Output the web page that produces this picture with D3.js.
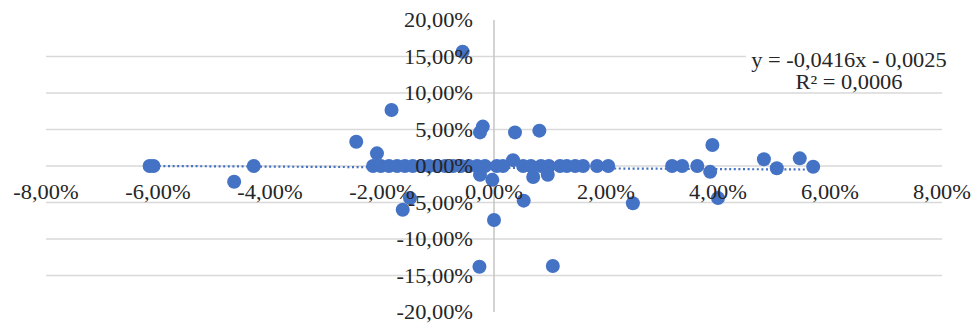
<!DOCTYPE html>
<html>
<head>
<meta charset="utf-8">
<script src="https://cdn.jsdelivr.net/npm/d3@7/dist/d3.min.js"></script>
<style>
  html, body { margin: 0; padding: 0; background: #fff; }
  svg { display: block; }
  text { font-family: "Liberation Serif", "Times New Roman", serif; fill: #262626; }
</style>
</head>
<body>
<svg id="chart" width="977" height="331"></svg>
<script>
// Scatter data (percent): points lying on / around the zero line
const zeroX = [-6.15, -6.08, -4.29, -2.16, -2.02, -1.875, -1.73, -1.59, -1.45, -1.30,
  -1.16, -1.02, -0.875, -0.73, -0.59, -0.45, -0.30, -0.16, 0.05, 0.16, 0.52, 0.66,
  0.84, 0.98, 1.18, 1.30, 1.45, 1.59, 1.84, 2.04, 3.18, 3.36, 3.63];
const zeroY = zeroX.map(() => 0);

// Scatter data (percent): points away from the zero line
const offX = [-0.56, -1.83, -0.25, -0.20, -2.46, -2.09, 0.375, 0.81, 3.90, 4.82, 5.46,
  -4.64, -1.50, -1.63, -0.26, 1.05, 0.00, 0.53, 2.48, 4.00, -0.03, -0.25, 0.70, 0.96,
  3.86, 5.05, 5.70, 0.34];
const offY = [15.66, 7.67, 4.6, 5.4, 3.33, 1.73, 4.6, 4.84, 2.88, 0.92, 1.05,
  -2.15, -4.4, -6.0, -13.8, -13.7, -7.4, -4.75, -5.1, -4.4, -1.9, -1.2, -1.5, -1.2,
  -0.8, -0.3, -0.1, 0.8];

// Axis ticks and labels
const xTicks = [-8, -6, -4, -2, 0, 2, 4, 6, 8];
const xTickLabels = ["-8,00%", "-6,00%", "-4,00%", "-2,00%", "0,00%", "2,00%", "4,00%", "6,00%", "8,00%"];
const yTicks = [20, 15, 10, 5, 0, -5, -10, -15, -20];
const yTickLabels = ["20,00%", "15,00%", "10,00%", "5,00%", "0,00%", "-5,00%", "-10,00%", "-15,00%", "-20,00%"];

// Linear trend line y = slope*x + intercept (fractions) and its R²
const trendSlope = -0.0416;
const trendIntercept = -0.0025;
const trendLabel = ["y = -0,0416x - 0,0025", "R² = 0,0006"];

const blue = "#4472C4";
const svg = d3.select("#chart");

const x = d3.scaleLinear().domain([-8, 8]).range([46, 942]);
const y = d3.scaleLinear().domain([-20, 20]).range([312, 20]);

const points = zeroX.map((v, i) => ({ x: v, y: zeroY[i] }))
  .concat(offX.map((v, i) => ({ x: v, y: offY[i] })));

const sx = 1.12;   // horizontal stretch of labels
const fs = 20;

// Horizontal gridlines (inner ticks)
svg.append("g").selectAll("line")
  .data(yTicks.filter(t => Math.abs(t) < 20))
  .join("line")
  .attr("x1", x(-8)).attr("x2", x(8))
  .attr("y1", d => y(d)).attr("y2", d => y(d))
  .attr("stroke", "#d9d9d9").attr("stroke-width", 1.5);

// Vertical axis line through x = 0
svg.append("line")
  .attr("x1", x(0)).attr("x2", x(0))
  .attr("y1", y(20)).attr("y2", y(-20))
  .attr("stroke", "#c4c4c4").attr("stroke-width", 1.5);

// Trend line across the x-range of the data
const xs = points.map(p => p.x);
const tx = d3.extent(xs);
const trendY = v => (trendSlope * (v / 100) + trendIntercept) * 100;
svg.append("line")
  .attr("x1", x(tx[0])).attr("x2", x(tx[1]))
  .attr("y1", y(trendY(tx[0]))).attr("y2", y(trendY(tx[1])))
  .attr("stroke", blue).attr("stroke-width", 2.2)
  .attr("stroke-dasharray", "2,2.6");

// Points
svg.append("g").selectAll("circle")
  .data(points)
  .join("circle")
  .attr("cx", d => x(d.x)).attr("cy", d => y(d.y))
  .attr("r", 7)
  .attr("fill", blue);

// Y tick labels, right-aligned left of the axis
svg.append("g").selectAll("text")
  .data(yTicks)
  .join("text")
  .attr("transform", d => `translate(${x(0) - 21},${y(d) + 7}) scale(${sx},1)`)
  .attr("text-anchor", "end")
  .attr("font-size", fs)
  .text((d, i) => yTickLabels[i]);

// X tick labels, below the horizontal axis
svg.append("g").selectAll("text")
  .data(xTicks)
  .join("text")
  .attr("transform", d => `translate(${x(d)},${y(0) + 33}) scale(${sx},1)`)
  .attr("text-anchor", "middle")
  .attr("font-size", fs)
  .text((d, i) => xTickLabels[i]);

// Trend line equation box
const eqX = 849;
svg.append("rect")
  .attr("x", 746).attr("y", 49).attr("width", 206).attr("height", 43)
  .attr("fill", "#fff");
svg.append("g").selectAll("text")
  .data(trendLabel)
  .join("text")
  .attr("transform", (d, i) => `translate(${eqX},${67 + i * 22}) scale(${sx},1)`)
  .attr("text-anchor", "middle")
  .attr("font-size", fs)
  .text(d => d);
</script>
</body>
</html>
